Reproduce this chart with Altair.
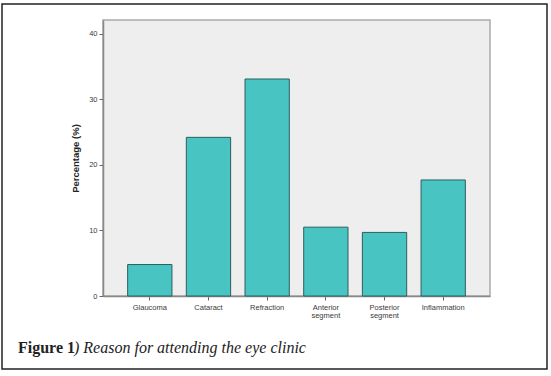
import altair as alt
import pandas as pd

categories = ["Glaucoma", "Cataract", "Refraction", "Anterior segment", "Posterior segment", "Inflammation"]
values = [4.8, 24.2, 33.1, 10.5, 9.7, 17.7]
y_ticks = [0, 10, 20, 30, 40]

df = pd.DataFrame({"reason": categories, "pct": values})

W, H = 387, 276

bars = alt.Chart(df).mark_bar(
    fill="#48C5C3", stroke="#2C5F5E", strokeWidth=1
).encode(
    x=alt.X("reason:N", sort=categories,
            scale=alt.Scale(paddingInner=0.245, paddingOuter=0.42),
            axis=alt.Axis(title=None, labelAngle=0, labelExpr="split(datum.label, ' ')",
                          labelFont="Liberation Sans", labelFontSize=7.5, labelColor="#3A3A3A",
                          labelPadding=3, tickSize=4, tickColor="#666666",
                          domainColor="#888888", domainWidth=1.5, labelLineHeight=8.5)),
    y=alt.Y("pct:Q", scale=alt.Scale(domain=[0, 42.1], nice=False),
            axis=alt.Axis(title="Percentage (%)", values=y_ticks, grid=False,
                          labelFont="Liberation Sans", labelFontSize=7.5, labelColor="#3A3A3A",
                          tickSize=4, tickColor="#666666", domainColor="#888888", domainWidth=1.5,
                          titleFont="Liberation Sans", titleFontSize=9.5, titleFontWeight="bold",
                          titleColor="#222222", titlePadding=8))
)

one = alt.Data(values=[{"a": 1}])

border = alt.Chart(one).mark_rect(fill=None, stroke="#222222", strokeWidth=1.5, clip=False).encode(
    x=alt.value(-101), x2=alt.value(444), y=alt.value(-16), y2=alt.value(349)
)

cap1 = alt.Chart(one).mark_text(
    text="Figure 1", font="Liberation Serif", fontSize=16, fontWeight="bold",
    align="left", baseline="alphabetic", color="#222222", clip=False
).encode(x=alt.value(-85), y=alt.value(333))

cap2 = alt.Chart(one).mark_text(
    text=") Reason for attending the eye clinic", font="Liberation Serif", fontSize=16,
    fontStyle="italic", align="left", baseline="alphabetic", color="#222222", clip=False
).encode(x=alt.value(-29), y=alt.value(333))

chart = alt.layer(bars, border, cap1, cap2).properties(
    width=W, height=H,
    padding={"left": 103, "top": 20, "right": 61, "bottom": 80},
    autosize=alt.AutoSizeParams(type="none"),
    background="white"
).configure_view(
    fill="#EEEEEE", stroke="#AAAAAA", strokeWidth=1.5
)

chart.save("out.html", embed_options={"renderer": "svg", "actions": False})
